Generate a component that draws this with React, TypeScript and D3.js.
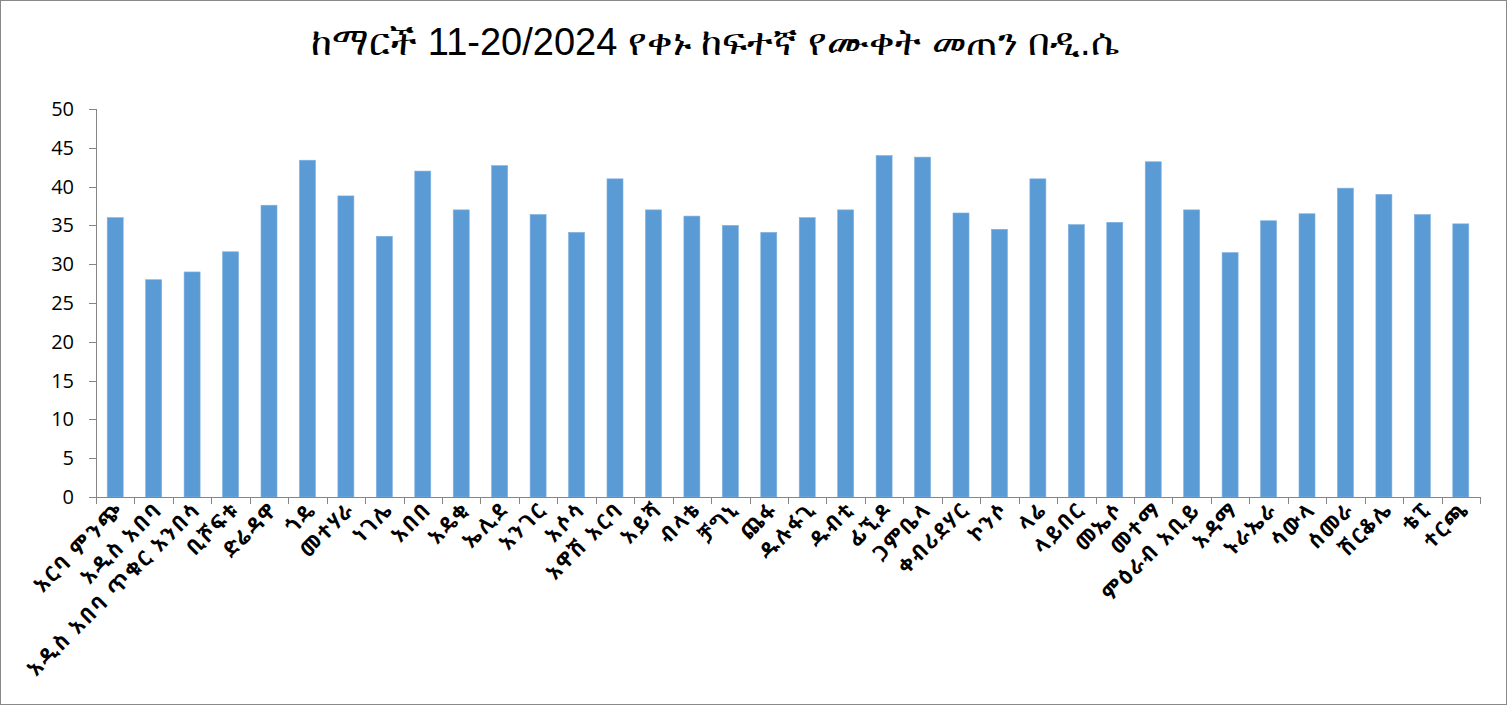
import React from "react";
import * as d3 from "d3";

const title = "ከማርች 11-20/2024 የቀኑ ከፍተኛ የሙቀት መጠን በዲ.ሴ";

const stations = [
  "አርባ ምንጭ", "አዲስ አበባ", "አዲስ አበባ ጥቁር አንበሳ", "ቢሾፍቱ", "ድሬዳዋ", "ጎዴ",
  "መተሃራ", "ነገሌ", "አበበ", "አዴቂ", "ኤሊደ", "አንገር", "አሶሳ", "አዋሽ አርባ",
  "አይሻ", "ብላቴ", "ቻግኒ", "ጨፋ", "ዱሉፋጊ", "ዱብቲ", "ፊኚዶ", "ጋምቤላ",
  "ቀብሪደሃር", "ኮንሶ", "ላሬ", "ላይበር", "መኤሶ", "መተማ", "ምዕራብ አቢይ", "አዳማ",
  "ኑራኤራ", "ሳውላ", "ሰመራ", "ሽርቆሌ", "ቴፒ", "ተርጫ",
];

const maxTemp = [
  36.0, 28.0, 29.0, 31.6, 37.6, 43.4, 38.8, 33.6, 42.0, 37.0, 42.7, 36.4,
  34.1, 41.0, 37.0, 36.2, 35.0, 34.1, 36.0, 37.0, 44.0, 43.8, 36.6, 34.5,
  41.0, 35.1, 35.4, 43.2, 37.0, 31.5, 35.6, 36.5, 39.8, 39.0, 36.4, 35.2,
];

const yTicks = [0, 5, 10, 15, 20, 25, 30, 35, 40, 45, 50];

const W = 1507;
const H = 705;
const left = 96;
const right = 1480;
const top = 109;
const bottom = 497;

export default function App() {
  const x = d3.scaleBand<string>().domain(stations).range([left, right]).paddingInner(0).paddingOuter(0);
  const y = d3.scaleLinear().domain([0, 50]).range([bottom, top]);
  const bw = 16;
  const labelFont = "'Noto Sans Ethiopic', 'Abyssinica SIL', 'DejaVu Sans', 'Noto Sans', sans-serif";

  return (
    <svg
      width={W}
      height={H}
      style={{ position: "fixed", left: 0, top: 0, background: "#fff" }}
    >
      <rect x={0.5} y={0.5} width={W - 1} height={H - 1} fill="#fff" stroke="#888" strokeWidth={1} />
      <text
        x={715}
        y={55}
        textAnchor="middle"
        fontFamily="'Liberation Sans', Arial, sans-serif"
        fontSize={38}
        fill="#000"
      >
        {title}
      </text>

      {/* y axis */}
      <line x1={left + 0.5} x2={left + 0.5} y1={top} y2={bottom} stroke="#868686" />
      {yTicks.map((t) => (
        <g key={t}>
          <line x1={left - 7} x2={left} y1={Math.round(y(t)) + 0.5} y2={Math.round(y(t)) + 0.5} stroke="#868686" />
          <text
            x={74}
            y={y(t)}
            dy="0.35em"
            textAnchor="end"
            fontFamily="'Open Sans', 'Liberation Sans', sans-serif"
            fontSize={20}
            fill="#000"
          >
            {t}
          </text>
        </g>
      ))}

      {/* bars */}
      {stations.map((s, i) => {
        const cx = (x(s) as number) + x.bandwidth() / 2;
        return (
          <rect
            key={s + i}
            x={cx - bw / 2}
            y={y(maxTemp[i])}
            width={bw}
            height={bottom - y(maxTemp[i])}
            fill="#5B9BD5"
            stroke="#7FB0DE"
            strokeWidth={0.6}
          />
        );
      })}

      {/* x axis */}
      <line x1={left} x2={right} y1={bottom + 0.5} y2={bottom + 0.5} stroke="#868686" />
      {[...stations.map((s) => x(s) as number), right].map((px, i) => (
        <line key={i} x1={Math.round(px) + 0.5} x2={Math.round(px) + 0.5} y1={bottom} y2={bottom + 7} stroke="#868686" />
      ))}
      {stations.map((s, i) => {
        const cx = (x(s) as number) + x.bandwidth() / 2;
        return (
          <text
            key={"l" + i}
            transform={`translate(${cx + 10},${bottom + 14}) rotate(-45)`}
            textAnchor="end"
            fontFamily={labelFont}
            fontSize={21}
            fontWeight="bold"
            letterSpacing={2}
            fill="#000"
          >
            {s}
          </text>
        );
      })}
    </svg>
  );
}
